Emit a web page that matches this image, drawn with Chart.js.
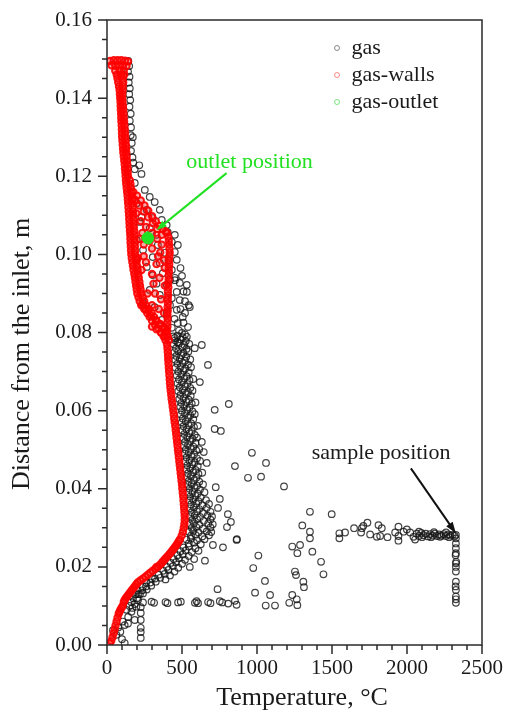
<!DOCTYPE html>
<html>
<head>
<meta charset="utf-8">
<script src="https://cdn.jsdelivr.net/npm/chart.js@4.4.1/dist/chart.umd.min.js"></script>
<style>
  html, body { margin: 0; padding: 0; background: #fff; }
  #wrap { width: 505px; height: 714px; }
</style>
</head>
<body>
<div id="wrap"><canvas id="chart" width="505" height="714"></canvas></div>
<script>
// axis ticks
const xTicks = [0, 500, 1000, 1500, 2000, 2500];
const xTickLabels = ['0', '500', '1000', '1500', '2000', '2500'];
const yTicks = [0, 0.02, 0.04, 0.06, 0.08, 0.10, 0.12, 0.14, 0.16];
const yTickLabels = ['0.00', '0.02', '0.04', '0.06', '0.08', '0.10', '0.12', '0.14', '0.16'];

const seriesNames = ['gas', 'gas-walls', 'gas-outlet'];

// gas: [temperature °C, distance m]
const gasPoints = [
  // along the upper channel
  [142,0.1495],[148,0.1482],[140,0.1468],[150,0.1455],[145,0.1440],[152,0.1425],[148,0.1410],[155,0.1395],
  [150,0.1378],[158,0.1360],[152,0.1342],[160,0.1325],[172,0.1300],[158,0.1305],[165,0.1285],[160,0.1265],
  [170,0.1248],[185,0.1218],[215,0.1228],[230,0.1206],[175,0.1235],
  // outlet zone
  [185,0.1183],[252,0.1165],[285,0.1147],[318,0.1134],[198,0.1131],[265,0.1114],[352,0.1114],[305,0.1093],
  [365,0.1088],[218,0.1083],[398,0.1075],[285,0.1067],[405,0.1057],[452,0.1050],[198,0.1037],[432,0.1032],
  [472,0.1024],[339,0.1024],[240,0.1011],[452,0.1006],[385,0.1004],[305,0.0993],[465,0.0986],[198,0.0986],
  [352,0.0978],[265,0.0968],[432,0.0960],[372,0.0952],[305,0.0947],[452,0.0940],[485,0.0927],[398,0.0922],
  [532,0.0922],[285,0.0909],[465,0.0904],[532,0.0904],[352,0.0896],[432,0.0888],[485,0.0883],[240,0.0876],
  [318,0.0865],[552,0.0865],[465,0.0858],[398,0.0850],[505,0.0840],[365,0.0832],[472,0.0824],[540,0.0814],
  [432,0.0812],[500,0.0799],[452,0.0786],[532,0.0789],[453,0.0934],[545,0.0870],
  [230,0.1095],[330,0.1050],[260,0.1040],[410,0.0985],[490,0.0965],[500,0.0945],[420,0.0935],[330,0.0925],
  [510,0.0905],[520,0.0880],[420,0.0870],[490,0.0860],[520,0.0850],[450,0.0835],[510,0.0825],[480,0.0805],
  [520,0.0795],[470,0.0775],
  // band beside the walls
  [440,0.0790],[470,0.0792],[505,0.0788],[455,0.0780],[490,0.0782],[525,0.0778],
  [445,0.0770],[480,0.0772],[515,0.0768],[548,0.0771],[460,0.0760],[500,0.0762],[530,0.0758],
  [450,0.0750],[475,0.0752],[510,0.0748],[542,0.0751],[462,0.0740],[495,0.0742],[528,0.0738],
  [455,0.0730],[485,0.0732],[520,0.0728],[555,0.0731],[470,0.0720],[505,0.0722],[540,0.0718],
  [458,0.0710],[490,0.0712],[522,0.0708],[560,0.0711],[475,0.0700],[510,0.0702],[545,0.0698],
  [465,0.0690],[495,0.0692],[530,0.0688],[480,0.0680],[515,0.0682],[550,0.0678],[575,0.0681],
  [470,0.0670],[500,0.0672],[535,0.0668],[485,0.0660],[520,0.0662],[555,0.0658],
  [475,0.0650],[505,0.0652],[540,0.0648],[570,0.0651],[490,0.0640],[525,0.0642],[558,0.0638],
  [482,0.0630],[510,0.0632],[545,0.0628],[495,0.0620],[530,0.0622],[565,0.0618],[590,0.0621],
  [488,0.0610],[515,0.0612],[550,0.0608],[500,0.0600],[535,0.0602],[570,0.0598],
  [492,0.0590],[520,0.0592],[555,0.0588],[585,0.0591],[505,0.0580],[540,0.0582],[575,0.0578],
  [498,0.0570],[525,0.0572],[560,0.0568],[510,0.0560],[545,0.0562],[580,0.0558],[605,0.0561],
  [502,0.0550],[530,0.0552],[565,0.0548],[515,0.0540],[550,0.0542],[585,0.0538],
  [508,0.0530],[535,0.0532],[570,0.0528],[600,0.0531],[520,0.0520],[555,0.0522],[590,0.0518],
  [512,0.0510],[540,0.0512],[575,0.0508],[525,0.0500],[560,0.0502],[595,0.0498],[615,0.0501],
  [518,0.0490],[545,0.0492],[580,0.0488],[530,0.0480],[565,0.0482],[600,0.0478],
  [522,0.0470],[550,0.0472],[585,0.0468],[620,0.0471],[535,0.0460],[570,0.0462],[605,0.0458],
  [528,0.0450],[555,0.0452],[590,0.0448],[540,0.0440],[575,0.0442],[610,0.0438],[635,0.0441],
  [532,0.0430],[560,0.0432],[595,0.0428],[545,0.0420],[580,0.0422],[615,0.0418],
  [538,0.0410],[565,0.0412],[600,0.0408],[640,0.0411],[550,0.0400],[585,0.0402],[620,0.0398],
  [542,0.0390],[570,0.0392],[605,0.0388],[650,0.0391],[555,0.0380],[590,0.0382],[625,0.0378],
  [548,0.0370],[575,0.0372],[610,0.0368],[660,0.0371],[560,0.0360],[595,0.0362],[635,0.0358],[680,0.0361],
  [552,0.0350],[580,0.0352],[615,0.0348],[665,0.0351],[565,0.0340],[600,0.0342],[640,0.0338],[690,0.0341],
  [555,0.0330],[585,0.0332],[620,0.0328],[670,0.0331],[700,0.0329],[568,0.0320],[600,0.0322],[645,0.0318],[690,0.0321],
  [552,0.0310],[580,0.0312],[615,0.0308],[675,0.0311],[705,0.0309],[565,0.0300],[595,0.0302],[640,0.0298],[690,0.0301],
  [545,0.0290],[575,0.0292],[610,0.0288],[665,0.0291],[695,0.0289],[560,0.0280],[590,0.0282],[635,0.0278],[680,0.0281],
  [530,0.0270],[560,0.0272],[600,0.0268],[650,0.0271],[545,0.0260],[580,0.0262],[625,0.0258],
  [510,0.0250],[545,0.0252],[590,0.0248],[490,0.0240],[525,0.0242],[565,0.0238],[610,0.0241],
  [470,0.0230],[505,0.0232],[545,0.0228],[445,0.0220],[480,0.0222],[520,0.0218],
  [425,0.0210],[460,0.0212],[500,0.0208],[400,0.0200],[440,0.0202],[475,0.0198],
  [375,0.0190],[410,0.0192],[450,0.0188],[345,0.0180],[385,0.0182],[420,0.0178],
  [320,0.0170],[355,0.0172],[390,0.0168],[290,0.0160],[325,0.0162],[260,0.0150],[295,0.0152],
  [235,0.0140],[265,0.0142],[210,0.0130],[240,0.0132],
  // scattered hot points
  [585,0.0760],[632,0.0768],[673,0.0717],[619,0.0673],[718,0.0602],[812,0.0617],[718,0.0553],[759,0.0548],
  [966,0.0492],[853,0.0458],[1060,0.0466],[940,0.0428],[1027,0.0431],[632,0.0520],[645,0.0494],[665,0.0466],
  [725,0.0404],[752,0.0374],[740,0.0351],[806,0.0335],[826,0.0315],[800,0.0302],[866,0.0271],[773,0.0250],
  [1180,0.0406],[706,0.0256],[653,0.0216],[552,0.0200],[581,0.0220],[864,0.0269],[1009,0.0229],[975,0.0197],
  [1053,0.0164],[987,0.0134],[1087,0.0128],[737,0.0143],
  // row near 0.011 m
  [240,0.0109],[297,0.0111],[314,0.0108],[390,0.0110],[403,0.0107],[474,0.0109],[492,0.0111],[586,0.0108],
  [597,0.0112],[607,0.0107],[674,0.0110],[690,0.0107],[752,0.0112],[768,0.0109],[808,0.0106],[853,0.0113],
  [864,0.0103],[1058,0.0101],[1120,0.0101],
  // near the inlet
  [174,0.0120],[196,0.0098],[163,0.0085],[141,0.0072],[118,0.0051],[89,0.0034],[63,0.0026],[40,0.0038],
  [207,0.0115],[185,0.0064],[225,0.0097],[225,0.0082],[225,0.0064],[225,0.0044],[225,0.0033],[225,0.0018],
  [118,0.0005],[150,0.0100],[130,0.0090],[105,0.0060],[160,0.0110],[185,0.0105],[200,0.0120],[150,0.0125],
  [170,0.0095],[140,0.0055],[100,0.0015],[75,0.0045],[200,0.0140],[240,0.0150],[260,0.0160],[300,0.0170],
  [220,0.0130],[190,0.0130],
  // towards the sample
  [1353,0.0341],[1498,0.0335],[1302,0.0306],[1353,0.0290],[1353,0.0273],[1235,0.0252],[1287,0.0256],[1269,0.0235],
  [1369,0.0239],[1427,0.0213],[1253,0.0188],[1260,0.0179],[1443,0.0181],[1309,0.0162],[1313,0.0148],[1235,0.0128],
  [1215,0.0108],[1265,0.0117],[1269,0.0102],
  [1549,0.0286],[1549,0.0273],[1587,0.0288],[1647,0.0299],[1699,0.0299],[1709,0.0305],[1736,0.0313],[1694,0.0288],
  [1754,0.0283],[1810,0.0307],[1832,0.0299],[1821,0.0279],[1799,0.0277],[1870,0.0276],[1921,0.0288],[1943,0.0303],
  [1943,0.0279],[1943,0.0267],[1977,0.0290],[1999,0.0296],[2021,0.0288],[2043,0.0277],[2054,0.0270],
  [2065,0.0285],[2080,0.0279],[2095,0.0287],[2110,0.0281],[2125,0.0285],[2140,0.0278],[2155,0.0284],[2170,0.0280],
  [2185,0.0285],[2200,0.0279],[2215,0.0283],[2230,0.0280],[2245,0.0284],[2260,0.0279],[2275,0.0283],[2290,0.0280],
  [2305,0.0282],[2318,0.0279],[2100,0.0276],[2160,0.0276],[2220,0.0277],[2280,0.0276],[2080,0.0290],[2180,0.0289],
  [2260,0.0288],
  [2326,0.0282],[2326,0.0273],[2326,0.0260],[2326,0.0248],[2326,0.0235],[2324,0.0230],[2328,0.0213],[2326,0.0209],
  [2326,0.0200],[2326,0.0188],[2326,0.0162],[2324,0.0150],[2326,0.0141],[2326,0.0124],[2326,0.0117],[2326,0.0108]
];

// gas-walls
const wallPoints = [
  // top
  [20,0.1495],[45,0.1497],[70,0.1497],[95,0.1497],[120,0.1496],[140,0.1494],
  [30,0.1484],[55,0.1483],[80,0.1484],[105,0.1483],[130,0.1482],
  // upper channel
  [55,0.147],[85,0.147],[112,0.147],[65,0.146],[95,0.146],[115,0.146],[70,0.145],[105,0.145],
  [75,0.144],[108,0.144],[80,0.143],[105,0.143],[84,0.142],[104,0.142],[86,0.141],[102,0.141],
  [88,0.140],[102,0.140],[90,0.139],[104,0.139],[91,0.138],[106,0.138],[92,0.137],[108,0.137],
  [94,0.136],[110,0.136],[95,0.135],[112,0.135],[96,0.134],[114,0.134],[98,0.133],[116,0.133],
  [99,0.132],[118,0.132],[100,0.131],[120,0.131],[101,0.130],[122,0.130],[103,0.129],[124,0.129],
  [105,0.128],[126,0.128],[107,0.127],[127,0.127],[109,0.126],[129,0.126],[112,0.125],[131,0.125],
  [115,0.124],[133,0.124],[118,0.123],[135,0.123],[120,0.122],[137,0.122],[122,0.121],[138,0.121],
  [124,0.120],[140,0.120],
  // left side of the outlet zone
  [126,0.119],[152,0.119],[128,0.118],[156,0.118],[131,0.117],[159,0.117],[134,0.116],[162,0.116],
  [137,0.115],[165,0.115],[139,0.114],[167,0.114],[141,0.113],[169,0.113],[143,0.112],[171,0.112],
  [145,0.111],[173,0.111],[147,0.110],[175,0.110],[148,0.109],[176,0.109],[150,0.108],[178,0.108],
  [151,0.107],[179,0.107],[153,0.106],[181,0.106],[155,0.105],[182,0.105],[156,0.104],[183,0.104],
  [157,0.103],[185,0.103],[159,0.102],[186,0.102],[160,0.101],[187,0.101],[162,0.100],[188,0.100],
  [165,0.099],[192,0.099],[169,0.098],[196,0.098],[173,0.097],[200,0.097],[177,0.096],[204,0.096],
  [182,0.095],[208,0.095],[186,0.094],[212,0.094],[190,0.093],[216,0.093],[194,0.092],[220,0.092],
  [198,0.091],[224,0.091],[202,0.090],[228,0.090],[210,0.089],[238,0.089],[218,0.088],[248,0.088],
  [228,0.087],[258,0.087],[248,0.086],[278,0.086],[268,0.085],[298,0.085],[284,0.084],[314,0.084],
  [300,0.083],[330,0.083],[320,0.082],[350,0.082],[342,0.081],[372,0.081],[360,0.080],[390,0.080],
  [378,0.079],[405,0.079],[390,0.078],[412,0.078],
  [300,0.0815],[330,0.0808],[360,0.0800],[380,0.0812],[355,0.0822],[325,0.0832],[290,0.0845],[260,0.0858],
  [240,0.0870],[385,0.0790],
  // right side of the outlet zone
  [400,0.1055],[408,0.1045],[412,0.1035],[414,0.1025],[416,0.1015],[418,0.1005],[416,0.0995],[414,0.0985],
  [415,0.0975],[412,0.0965],[413,0.0955],[410,0.0945],[411,0.0935],[408,0.0925],[409,0.0915],[406,0.0905],
  [407,0.0895],[405,0.0885],[406,0.0875],[404,0.0865],[405,0.0855],[403,0.0845],[404,0.0835],[402,0.0825],
  [403,0.0815],[401,0.0805],[400,0.0795],
  [175,0.1160],[200,0.1150],[225,0.1138],[250,0.1125],[275,0.1112],[300,0.1098],[325,0.1085],[350,0.1073],
  [372,0.1065],[392,0.1058],[185,0.1140],[215,0.1125],[245,0.1110],[275,0.1095],[305,0.1080],[335,0.1065],
  [365,0.1050],
  [195,0.1105],[225,0.1085],[260,0.1070],[300,0.1055],[335,0.1040],[365,0.1025],[215,0.1040],[245,0.1025],
  [300,0.1015],[340,0.0995],[380,0.0985],[205,0.0990],[260,0.0980],[230,0.0960],[300,0.0950],[350,0.0940],
  [385,0.0920],[270,0.0900],[320,0.0900],[360,0.0885],[300,0.0870],[345,0.0860],[380,0.0850],[330,0.0975],
  [245,0.0995],[385,0.0965],[310,0.0925],[285,0.1035],[355,0.1005],[235,0.1055],
  // lower wall band
  [400,0.077],[403,0.076],[405,0.075],[407,0.074],[408,0.073],[410,0.072],[412,0.071],[414,0.070],
  [416,0.069],[418,0.068],[420,0.067],[422,0.066],[425,0.065],[428,0.064],[431,0.063],[435,0.062],
  [438,0.061],[442,0.060],[445,0.059],[448,0.058],[451,0.057],[455,0.056],[458,0.055],[461,0.054],
  [464,0.053],[467,0.052],[470,0.051],[473,0.050],[476,0.049],[479,0.048],[482,0.047],[485,0.046],
  [488,0.045],[491,0.044],[494,0.043],[497,0.042],[500,0.041],[502,0.040],[505,0.039],[508,0.038],
  [510,0.037],[512,0.036],[514,0.035],[516,0.034],[518,0.033],[518,0.032],[516,0.031],[512,0.030],
  [506,0.029],[498,0.028],[486,0.027],[470,0.026],[452,0.025],[432,0.024],[410,0.023],[387,0.022],
  [364,0.021],[340,0.020],
  [478,0.0265],[461,0.0255],[442,0.0245],[421,0.0235],[398,0.0225],[375,0.0215],[352,0.0205],
  // near the inlet
  [322,0.0195],[305,0.0190],[288,0.0185],[272,0.0180],[256,0.0175],[240,0.0170],[222,0.0165],[205,0.0160],
  [185,0.0150],[165,0.0140],[145,0.0130],[125,0.0120],[112,0.0110],[104,0.0100],[90,0.0090],[78,0.0080],
  [70,0.0070],[64,0.0060],[57,0.0050],[51,0.0040],[44,0.0030],[37,0.0020],[28,0.0010],[18,0.0004],
  [195,0.0155],[175,0.0145],[155,0.0135],[135,0.0125],[118,0.0115],[97,0.0095],[84,0.0085],[330,0.0200]
];

// gas-outlet
const outletPoints = [[262,0.1043],[272,0.1046],[282,0.1042],[268,0.1039],[277,0.1038]];

const toXY = pts => pts.map(p => ({ x: p[0], y: p[1] }));
const serif = 'Liberation Serif, Times New Roman, serif';

const notes = {
  outletText: [529, 0.1221],
  outletArrow: [[797, 0.1208], [330, 0.1062]],
  sampleText: [1365, 0.0476],
  sampleArrow: [[2026, 0.0452], [2326, 0.0286]]
};

function drawArrow(ctx, x1, y1, x2, y2, color, head) {
  const ang = Math.atan2(y2 - y1, x2 - x1);
  ctx.strokeStyle = color;
  ctx.fillStyle = color;
  ctx.lineWidth = 2;
  ctx.beginPath();
  ctx.moveTo(x1, y1);
  ctx.lineTo(x2 - Math.cos(ang) * head * 0.8, y2 - Math.sin(ang) * head * 0.8);
  ctx.stroke();
  ctx.beginPath();
  ctx.moveTo(x2, y2);
  ctx.lineTo(x2 - head * Math.cos(ang - 0.33), y2 - head * Math.sin(ang - 0.33));
  ctx.lineTo(x2 - head * Math.cos(ang + 0.33), y2 - head * Math.sin(ang + 0.33));
  ctx.closePath();
  ctx.fill();
}

// frame, minor ticks, titles, legend and the two notes
const decorations = {
  id: 'decorations',
  afterDatasetsDraw(chart) {
    const { ctx, chartArea: a, scales: { x, y } } = chart;
    ctx.save();
    ctx.strokeStyle = '#2a2a2a';
    ctx.lineWidth = 1.5;
    ctx.strokeRect(a.left, a.top, a.right - a.left, a.bottom - a.top);

    ctx.beginPath();
    for (let i = 0; i <= 25; i++) {
      const px = x.getPixelForValue(i * 100);
      ctx.moveTo(px, a.bottom);
      ctx.lineTo(px, a.bottom + (i % 5 === 0 ? 9 : 5));
    }
    for (let i = 0; i <= 32; i++) {
      const py = y.getPixelForValue(i * 0.005);
      ctx.moveTo(a.left, py);
      ctx.lineTo(a.left - (i % 4 === 0 ? 9 : 5), py);
    }
    ctx.stroke();

    // axis titles
    ctx.fillStyle = '#1a1a1a';
    ctx.font = '26px ' + serif;
    ctx.textAlign = 'center';
    ctx.textBaseline = 'middle';
    ctx.fillText('Temperature, °C', 302, 698);
    ctx.save();
    ctx.translate(22.5, 354);
    ctx.rotate(-Math.PI / 2);
    ctx.fillText('Distance from the inlet, m', 0, 0);
    ctx.restore();

    // legend
    const legendColors = ['rgba(60,60,60,0.6)', 'rgba(255,60,60,0.6)', 'rgba(40,220,40,0.6)'];
    const rows = [48, 75, 102];
    ctx.font = '22px ' + serif;
    ctx.textAlign = 'left';
    ctx.textBaseline = 'alphabetic';
    seriesNames.forEach((name, i) => {
      ctx.strokeStyle = legendColors[i];
      ctx.lineWidth = 1;
      ctx.beginPath();
      ctx.arc(337, rows[i], 2.5, 0, Math.PI * 2);
      ctx.stroke();
      ctx.fillStyle = '#1a1a1a';
      ctx.fillText(name, 351.5, rows[i] + 5.8);
    });

    // notes
    const green = '#22e022';
    ctx.fillStyle = green;
    ctx.fillText('outlet position', x.getPixelForValue(notes.outletText[0]), y.getPixelForValue(notes.outletText[1]));
    const oa = notes.outletArrow;
    drawArrow(ctx, x.getPixelForValue(oa[0][0]), y.getPixelForValue(oa[0][1]),
      x.getPixelForValue(oa[1][0]), y.getPixelForValue(oa[1][1]), green, 11);
    ctx.fillStyle = '#1a1a1a';
    ctx.fillText('sample position', x.getPixelForValue(notes.sampleText[0]), y.getPixelForValue(notes.sampleText[1]));
    const sa = notes.sampleArrow;
    drawArrow(ctx, x.getPixelForValue(sa[0][0]), y.getPixelForValue(sa[0][1]),
      x.getPixelForValue(sa[1][0]), y.getPixelForValue(sa[1][1]), '#111', 12);
    ctx.restore();
  }
};

new Chart(document.getElementById('chart'), {
  type: 'scatter',
  data: {
    datasets: [{
      label: seriesNames[0],
      data: toXY(gasPoints),
      order: 3,
      pointRadius: 3.3,
      borderWidth: 1.2,
      borderColor: 'rgba(20,20,20,0.8)',
      backgroundColor: 'rgba(0,0,0,0)'
    }, {
      label: seriesNames[1],
      data: toXY(wallPoints),
      order: 2,
      pointRadius: 3.2,
      borderWidth: 2,
      borderColor: 'rgba(255,0,0,0.9)',
      backgroundColor: 'rgba(255,0,0,0.35)'
    }, {
      label: seriesNames[2],
      data: toXY(outletPoints),
      order: 1,
      pointRadius: 4.5,
      borderWidth: 1,
      borderColor: '#22e022',
      backgroundColor: '#22e022'
    }]
  },
  options: {
    responsive: false,
    animation: false,
    devicePixelRatio: 1,
    events: [],
    layout: { padding: { left: 0, right: 23, top: 20, bottom: 0 } },
    plugins: { legend: { display: false }, tooltip: { enabled: false } },
    scales: {
      x: {
        type: 'linear', min: 0, max: 2500,
        afterBuildTicks: s => { s.ticks = xTicks.map(v => ({ value: v })); },
        afterFit: s => { s.height = 69; s.paddingLeft = 0; s.paddingRight = 0; },
        grid: { display: false, drawTicks: false },
        border: { display: false },
        ticks: {
          padding: 11, color: '#1a1a1a', maxRotation: 0, autoSkip: false,
          font: { family: serif, size: 21 },
          callback: (v, i) => xTickLabels[i]
        }
      },
      y: {
        type: 'linear', min: 0, max: 0.16,
        afterBuildTicks: s => { s.ticks = yTicks.map(v => ({ value: v })); },
        afterFit: s => { s.width = 107; s.paddingTop = 0; s.paddingBottom = 0; },
        grid: { display: false, drawTicks: false },
        border: { display: false },
        ticks: {
          padding: 15, color: '#1a1a1a', autoSkip: false,
          font: { family: serif, size: 21 },
          callback: (v, i) => yTickLabels[i]
        }
      }
    }
  },
  plugins: [decorations]
});
</script>
</body>
</html>
